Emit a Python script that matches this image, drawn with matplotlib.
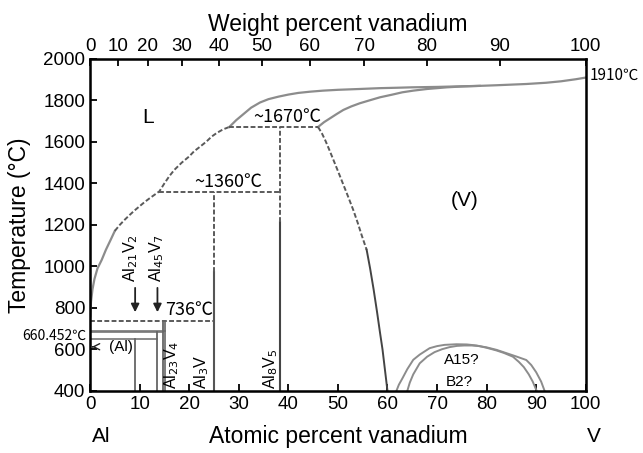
import matplotlib as mpl
mpl.use('Agg')
import matplotlib.pyplot as plt
import numpy as np

plt.rcParams['font.family'] = ['Liberation Sans', 'DejaVu Sans']
cjk = ['Noto Sans CJK SC', 'DejaVu Sans']

# liquidus (at% V, T in C)
liq_low_x = [0.05, 0.2, 0.5, 0.9, 1.5, 2.35, 3.2, 4.2, 5.0]
liq_low_t = [760, 830, 890, 940, 990, 1031, 1080, 1130, 1171]
liq_mid_x = [5.0, 6.0, 7.0, 8.0, 9.0, 10.0, 11.0, 12.0, 13.0, 14.0,
             15.0, 16.0, 17.0, 18.5, 20.0, 21.0, 22.2, 23.5, 24.5, 25.5, 26.8, 28.1]
liq_mid_t = [1171, 1200, 1225, 1248, 1270, 1290, 1310, 1328, 1345, 1362,
             1400, 1435, 1465, 1500, 1530, 1555, 1577, 1602, 1625, 1642, 1660, 1672]
liq_hi_x = [28.1, 29.5, 31.0, 32.5, 34.3, 36.0, 38.0, 40.0, 42.0, 44.4, 47.0, 50.0,
            54.4, 58.5, 62.0, 65.0, 70.0, 75.0, 78.6, 82.0, 85.0, 88.0, 92.0, 95.0, 98.0, 100.0]
liq_hi_t = [1672, 1705, 1735, 1765, 1790, 1806, 1818, 1828, 1836, 1842, 1847, 1851,
            1855, 1859, 1861, 1863, 1865, 1868, 1870, 1873, 1876, 1879, 1885, 1892, 1902, 1910]
# solidus of (V)
sol_x = [46.0, 47.2, 48.5, 49.8, 51.1, 52.7, 54.4, 56.5, 58.5, 61.0, 63.0, 65.2, 68.0, 72.0, 75.0, 78.6]
sol_t = [1672, 1695, 1715, 1735, 1754, 1771, 1786, 1801, 1815, 1828, 1839, 1847, 1855, 1863, 1867, 1870]
# solvus of (V)
solv_dash_x = [46.0, 46.8, 47.5, 48.3, 49.1, 50.0, 51.0, 52.0, 53.1, 54.0, 54.8, 55.8]
solv_dash_t = [1672, 1640, 1605, 1560, 1513, 1460, 1400, 1340, 1272, 1210, 1150, 1080]
solv_x = [55.8, 56.5, 57.2, 57.9, 58.5, 59.0, 59.4, 59.8, 60.0]
solv_t = [1080, 990, 890, 780, 680, 600, 520, 440, 400]

# A15 / B2 domes
domeA_x = [61.8, 62.3, 63.0, 64.0, 65.2, 66.5, 68.5, 70.0, 71.5, 73.9, 76.0, 78.0,
           80.0, 82.0, 83.5, 85.3, 86.5, 87.5, 88.5, 89.3, 90.1]
domeA_t = [400, 430, 460, 505, 550, 575, 606, 616, 622, 625, 624, 619,
           608, 595, 583, 565, 540, 515, 480, 445, 400]
domeB_x = [64.0, 64.5, 65.2, 66.5, 68.0, 69.5, 71.0, 72.5, 74.0, 75.5, 77.0, 78.5,
           80.0, 82.0, 84.0, 86.0, 88.0, 89.0, 90.0, 91.0, 91.7]
domeB_t = [400, 440, 480, 533, 565, 587, 601, 611, 617, 619, 619, 616,
           610, 598, 582, 566, 549, 525, 490, 445, 400]

# invariant temperatures
t_peri1 = 1360
t_peri2 = 1670
t_736 = 736
x_al3v = 25.0
x_al8v5 = 38.3
x_1360_start = 14.0
x_1670_start, x_1670_end = 28.1, 46.0

# low-Al side compounds: (x, top T)
al21v2 = (9.1, 650)
al45v7 = (13.6, 684)
al23v4 = (14.8, 736)
low_lines_t = [690, 684, 650]
low_lines_end = [15.1, 14.8, 13.6]

wt_ticks = [0, 10, 20, 30, 40, 50, 60, 70, 80, 90, 100]


def wt_to_at(w):
    w = np.asarray(w, dtype=float)
    nv = w / 50.94
    na = (100 - w) / 26.98
    return 100 * nv / (nv + na)


fig = plt.figure(figsize=(6.43, 4.53), dpi=100)
ax = fig.add_axes([0.140, 0.137, 0.771, 0.733])

lc = '#8c8c8c'
dc = '#5a5a5a'
dash = (2.5, 1.2)
ax.plot(liq_low_x, liq_low_t, color=lc, lw=1.6)
ax.plot(liq_mid_x, liq_mid_t, color=dc, lw=1.4, dashes=dash)
ax.plot(liq_hi_x, liq_hi_t, color=lc, lw=1.6)
ax.plot(sol_x, sol_t, color=lc, lw=1.6)
ax.plot(solv_dash_x, solv_dash_t, color=dc, lw=1.4, dashes=dash)
ax.plot(solv_x, solv_t, color='#444444', lw=1.4)
ax.plot(domeA_x, domeA_t, color=lc, lw=1.4)
ax.plot(domeB_x, domeB_t, color=lc, lw=1.4)

# invariant lines
ax.plot([x_1360_start, x_al8v5], [t_peri1, t_peri1], color=dc, lw=1.4, dashes=dash)
ax.plot([x_1670_start, x_1670_end], [t_peri2, t_peri2], color=dc, lw=1.4, dashes=dash)
ax.plot([0, x_al3v], [t_736, t_736], color=dc, lw=1.4, dashes=dash)

# Al3V and Al8V5
ax.plot([x_al3v, x_al3v], [400, 975], color='#555555', lw=1.5)
ax.plot([x_al3v, x_al3v], [975, t_peri1], color=dc, lw=1.4, dashes=dash)
ax.plot([x_al8v5, x_al8v5], [400, 1216], color='#444444', lw=1.5)
ax.plot([x_al8v5, x_al8v5], [1216, t_peri2], color=dc, lw=1.4, dashes=dash)

# low-temperature Al-rich region
for t, xe in zip(low_lines_t, low_lines_end):
    ax.plot([0, xe], [t, t], color='#777777', lw=1.2)
for xc, tt in (al21v2, al45v7, al23v4):
    ax.plot([xc, xc], [400, tt], color='#666666', lw=1.3)
ax.plot([15.2, 15.2], [400, t_736], color='#666666', lw=1.2)

for xa in (al21v2[0], al45v7[0]):
    ax.annotate('', xy=(xa, 766), xytext=(xa, 910),
                arrowprops=dict(arrowstyle='-|>', color='#222222', lw=1.3, mutation_scale=12))
ax.annotate('(Al)', xy=(0.4, 613), xytext=(6.3, 613), fontsize=11, va='center', ha='center',
            arrowprops=dict(arrowstyle='->', color='#222222', lw=1.0, shrinkA=10, shrinkB=0))

# labels
ax.text(11.7, 1716, 'L', fontsize=15, ha='center', va='center')
ax.text(75.6, 1320, '(V)', fontsize=15, ha='center', va='center')
ax.text(39.7, 1719, '~1670℃', fontsize=13, ha='center', va='center', family=cjk)
ax.text(27.8, 1409, '~1360℃', fontsize=13, ha='center', va='center', family=cjk)
ax.text(15.2, 790, '736℃', fontsize=13, ha='left', va='center', family=cjk)
ax.text(100.8, 1923, '1910℃', fontsize=11, ha='left', va='center', clip_on=False, family=cjk)
ax.text(-0.8, 665, '660.452℃', fontsize=10, ha='right', va='center', clip_on=False, family=cjk)
ax.text(75.0, 549, 'A15?', fontsize=11, ha='center', va='center')
ax.text(74.4, 445, 'B2?', fontsize=11, ha='center', va='center')

ax.text(8.1, 1041, r'Al$_{21}$V$_{2}$', fontsize=11.5, rotation=90, ha='center', va='center')
ax.text(13.4, 1041, r'Al$_{45}$V$_{7}$', fontsize=11.5, rotation=90, ha='center', va='center')
ax.text(16.5, 408, r'Al$_{23}$V$_{4}$', fontsize=11.5, rotation=90, ha='center', va='bottom')
ax.text(22.5, 408, r'Al$_{3}$V', fontsize=11.5, rotation=90, ha='center', va='bottom')
ax.text(36.4, 408, r'Al$_{8}$V$_{5}$', fontsize=11.5, rotation=90, ha='center', va='bottom')

ax.text(2.2, 180, 'Al', fontsize=15, ha='center', va='center', clip_on=False)
ax.text(101.6, 180, 'V', fontsize=15, ha='center', va='center', clip_on=False)

ax.set_xlim(0, 100)
ax.set_ylim(400, 2000)
ax.set_xticks(range(0, 101, 10))
ax.set_yticks(range(400, 2001, 200))
ax.tick_params(direction='in', length=5, width=1.3, labelsize=13.5, right=False)
ax.set_xlabel('Atomic percent vanadium', fontsize=16.5, labelpad=9)
ax.set_ylabel('Temperature (°C)', fontsize=16.5, labelpad=9)
for s in ax.spines.values():
    s.set_linewidth(1.8)

ax2 = ax.twiny()
ax2.set_xlim(0, 100)
ax2.set_xticks(wt_to_at(wt_ticks))
ax2.set_xticklabels([str(w) for w in wt_ticks])
ax2.tick_params(direction='in', length=5, width=1.3, labelsize=13.5, pad=3)
ax2.set_xlabel('Weight percent vanadium', fontsize=16.5, labelpad=5)

fig.savefig('out.png', dpi=100)
